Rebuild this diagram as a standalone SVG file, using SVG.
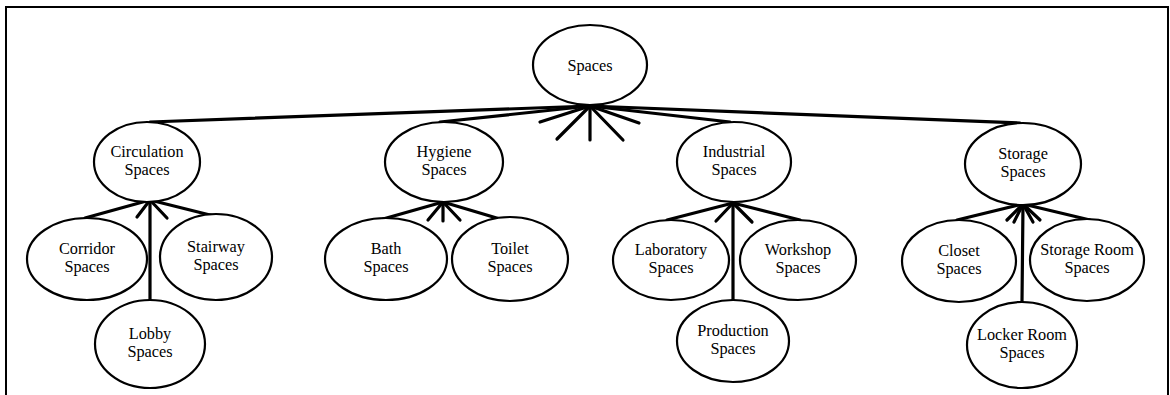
<svg xmlns="http://www.w3.org/2000/svg" width="1170" height="395" viewBox="0 0 1170 395">
  <style>
    .node ellipse { fill: #ffffff; stroke: #000000; stroke-width: 2.2; }
    .node text { font-family: "Liberation Serif", "Times New Roman", serif; font-size: 16.3px; fill: #000000; text-anchor: middle; }
    .edges line { stroke: #000000; stroke-width: 3.2; stroke-linecap: round; }
    .frame { fill: none; stroke: #000000; stroke-width: 2; }
  </style>
  <rect x="0" y="0" width="1170" height="395" fill="#ffffff"/>
  <rect class="frame" x="6" y="7" width="1162" height="400"/>

  <!-- connectors: parent-to-child links and fan spokes -->
  <g id="connectors" class="edges">
    <!-- root fan -->
    <line x1="590" y1="106" x2="150" y2="122"/>
    <line x1="590" y1="106" x2="440" y2="122"/>
    <line x1="590" y1="106" x2="730" y2="122"/>
    <line x1="590" y1="106" x2="1020" y2="123"/>
    <line x1="590" y1="106" x2="540" y2="122"/>
    <line x1="590" y1="106" x2="557" y2="139"/>
    <line x1="590" y1="106" x2="590" y2="140"/>
    <line x1="590" y1="106" x2="623" y2="140"/>
    <line x1="590" y1="106" x2="639" y2="123"/>
    <!-- circulation -->
    <line x1="150" y1="200" x2="85" y2="218"/>
    <line x1="150" y1="200" x2="222" y2="218"/>
    <line x1="150" y1="200" x2="150" y2="300"/>
    <line x1="150" y1="200" x2="137" y2="217"/>
    <line x1="150" y1="200" x2="167" y2="218"/>
    <!-- hygiene -->
    <line x1="443" y1="202" x2="383" y2="219"/>
    <line x1="443" y1="202" x2="500" y2="219"/>
    <line x1="443" y1="202" x2="428" y2="220"/>
    <line x1="443" y1="202" x2="443" y2="221"/>
    <line x1="443" y1="202" x2="460" y2="220"/>
    <!-- industrial -->
    <line x1="733" y1="203" x2="667" y2="220"/>
    <line x1="733" y1="203" x2="800" y2="220"/>
    <line x1="733" y1="203" x2="733" y2="300"/>
    <line x1="733" y1="203" x2="716" y2="221"/>
    <line x1="733" y1="203" x2="752" y2="222"/>
    <!-- storage -->
    <line x1="1023" y1="204" x2="957" y2="220"/>
    <line x1="1023" y1="204" x2="1090" y2="220"/>
    <line x1="1023" y1="204" x2="1022" y2="302"/>
    <line x1="1023" y1="204" x2="1007" y2="220"/>
    <line x1="1023" y1="204" x2="1014" y2="222"/>
    <line x1="1023" y1="204" x2="1033" y2="222"/>
    <line x1="1023" y1="204" x2="1040" y2="220"/>
  </g>

  <g id="spaces" class="node">
    <ellipse cx="590" cy="65" rx="57" ry="40"/>
    <text x="590" y="71">Spaces</text>
  </g>

  <g id="circulation" class="node">
    <ellipse cx="147" cy="162" rx="53" ry="40"/>
    <text x="147" y="157">Circulation</text>
    <text x="147" y="175">Spaces</text>
  </g>
  <g id="corridor" class="node">
    <ellipse cx="87" cy="259" rx="60" ry="41"/>
    <text x="87" y="254">Corridor</text>
    <text x="87" y="272">Spaces</text>
  </g>
  <g id="stairway" class="node">
    <ellipse cx="216" cy="257" rx="56" ry="43"/>
    <text x="216" y="252">Stairway</text>
    <text x="216" y="270">Spaces</text>
  </g>
  <g id="lobby" class="node">
    <ellipse cx="150" cy="344" rx="55" ry="44"/>
    <text x="150" y="339">Lobby</text>
    <text x="150" y="357">Spaces</text>
  </g>

  <g id="hygiene" class="node">
    <ellipse cx="444" cy="162" rx="59" ry="40"/>
    <text x="444" y="157">Hygiene</text>
    <text x="444" y="175">Spaces</text>
  </g>
  <g id="bath" class="node">
    <ellipse cx="386" cy="259" rx="61" ry="41"/>
    <text x="386" y="254">Bath</text>
    <text x="386" y="272">Spaces</text>
  </g>
  <g id="toilet" class="node">
    <ellipse cx="510" cy="259" rx="58" ry="42"/>
    <text x="510" y="254">Toilet</text>
    <text x="510" y="272">Spaces</text>
  </g>

  <g id="industrial" class="node">
    <ellipse cx="734" cy="162" rx="57" ry="40"/>
    <text x="734" y="157">Industrial</text>
    <text x="734" y="175">Spaces</text>
  </g>
  <g id="laboratory" class="node">
    <ellipse cx="671" cy="260" rx="58" ry="40"/>
    <text x="671" y="255">Laboratory</text>
    <text x="671" y="273">Spaces</text>
  </g>
  <g id="workshop" class="node">
    <ellipse cx="798" cy="260" rx="58" ry="40"/>
    <text x="798" y="255">Workshop</text>
    <text x="798" y="273">Spaces</text>
  </g>
  <g id="production" class="node">
    <ellipse cx="733" cy="341" rx="56" ry="41"/>
    <text x="733" y="336">Production</text>
    <text x="733" y="354">Spaces</text>
  </g>

  <g id="storage" class="node">
    <ellipse cx="1023" cy="164" rx="58" ry="41"/>
    <text x="1023" y="159">Storage</text>
    <text x="1023" y="177">Spaces</text>
  </g>
  <g id="closet" class="node">
    <ellipse cx="959" cy="261" rx="57" ry="41"/>
    <text x="959" y="256">Closet</text>
    <text x="959" y="274">Spaces</text>
  </g>
  <g id="storage-room" class="node">
    <ellipse cx="1087" cy="260" rx="57" ry="41"/>
    <text x="1087" y="255">Storage Room</text>
    <text x="1087" y="273">Spaces</text>
  </g>
  <g id="locker-room" class="node">
    <ellipse cx="1022" cy="345" rx="55" ry="43"/>
    <text x="1022" y="340">Locker Room</text>
    <text x="1022" y="358">Spaces</text>
  </g>
</svg>
